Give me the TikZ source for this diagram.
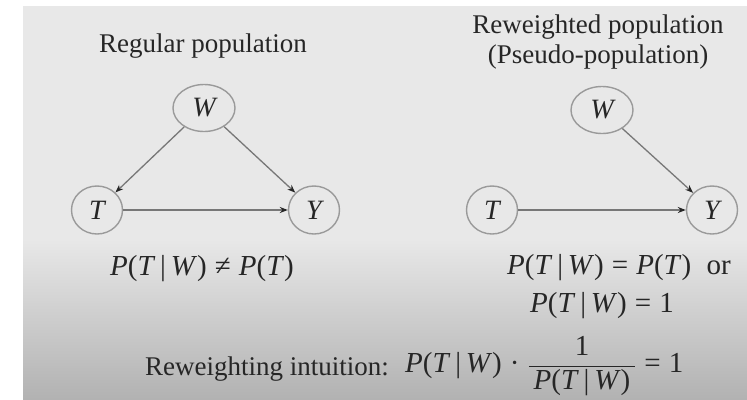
\documentclass[tikz,border=0pt]{standalone}
\usepackage{fontspec}
\setmainfont{Liberation Serif}
\usetikzlibrary{shapes.geometric,arrows.meta}
\definecolor{bgtop}{HTML}{E8E8E8}
\definecolor{bgbot}{HTML}{B2B2B2}
\definecolor{ink}{HTML}{262626}
\definecolor{ring}{HTML}{9A9A9A}
\definecolor{edgegrey}{HTML}{777777}
\newcommand\PTW{\textit{P}(\textit{T}\,|\,\textit{W})}
\begin{document}
\begin{tikzpicture}[x=1pt,y=-1pt,
  var/.style={ellipse,draw=ring,line width=1.4pt,fill=bgtop,inner sep=0pt,text=ink,font=\fontsize{28}{32}\selectfont\itshape},
  wnode/.style={var,minimum width=62pt,minimum height=47pt},
  tnode/.style={var,minimum width=51pt,minimum height=48pt},
  edgearrow/.style={draw=edgegrey,line width=1.3pt,-{Stealth[length=8pt,width=6pt,color=ink]}},
  title/.style={text=ink,font=\fontsize{27}{32}\selectfont,inner sep=0pt,anchor=base},
  formula/.style={text=ink,font=\fontsize{29}{34}\selectfont,inner sep=0pt,anchor=base west}]
\useasboundingbox (0,0) rectangle (747,399);
\fill[white] (0,0) rectangle (747,399);
\fill[bgtop] (23,6) rectangle (747,240);
\shade[top color=bgtop,bottom color=bgbot] (23,239.5) rectangle (747,399);

% left diagram
\node[title] (t1) at (203,52) {Regular population};
\node[wnode] (W1) at (204,108) {W};
\node[tnode] (T1) at (97,210) {T};
\node[tnode] (Y1) at (314,210) {Y};
\draw[edgearrow] (W1) -- (T1);
\draw[edgearrow] (W1) -- (Y1);
\draw[edgearrow] (T1) -- (Y1);
\node[formula] (f1) at (110,275) {\PTW\;≠\;\textit{P}(\textit{T})};

% right diagram
\node[title] (t2) at (598,33) {Reweighted population};
\node[title] (t3) at (598,63) {(Pseudo-population)};
\node[wnode] (W2) at (602,110) {W};
\node[tnode] (T2) at (492,210) {T};
\node[tnode] (Y2) at (712,210) {Y};
\draw[edgearrow] (W2) -- (Y2);
\draw[edgearrow] (T2) -- (Y2);
\node[formula] (f2) at (507,274) {\PTW\;=\;\textit{P}(\textit{T})\; or};
\node[formula] (f3) at (530,312) {\PTW\;=\;1};

% bottom
\node[title,anchor=base west] (ri) at (145,375) {Reweighting intuition:};
\node[formula] (f4) at (405,372) {\PTW\;·\;$\displaystyle\frac{\hbox{\,1\,}}{\hbox{\,\PTW\,}}$\;=\;1};
\end{tikzpicture}
\end{document}
